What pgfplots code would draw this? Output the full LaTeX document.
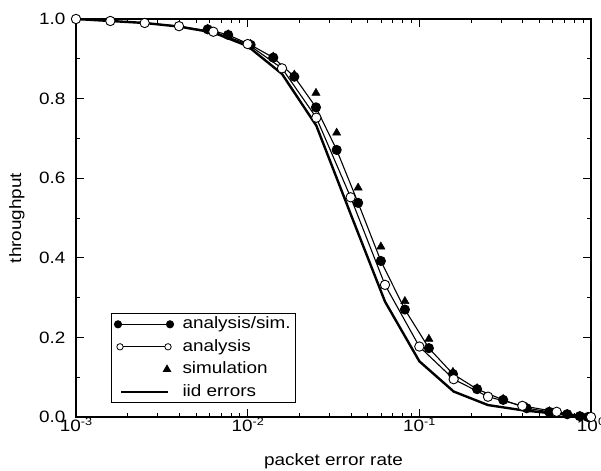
\documentclass[border=0pt]{standalone}
\usepackage{fontspec}
\setmainfont{Liberation Sans}[FakeStretch=1.15]
\usepackage{pgfplots}
\pgfplotsset{compat=1.18}

\newcommand{\dec}[1]{10\raisebox{5.8bp}{\fontsize{11}{11}\selectfont #1}}

\pgfplotsset{
  twoends/.style={legend image code/.code={
    \draw[mark repeat=2, mark phase=1] plot coordinates {(#1,0bp) (26bp,0bp) (52bp-#1,0bp)};}},
  onlyend/.style={legend image code/.code={
    \draw[only marks] plot coordinates {(49bp,0bp)};}},
  plainline/.style={legend image code/.code={
    \draw plot coordinates {(3bp,0bp) (50bp,0bp)};}},
}

% iid errors
\pgfplotstableread{
x y
0.001 1.0
0.001585 0.995
0.002512 0.99
0.003981 0.981
0.00631 0.966
0.01 0.932
0.01585 0.862
0.02512 0.732
0.03981 0.51
0.0631 0.29
0.1 0.14
0.1585 0.064
0.2512 0.03
0.3981 0.017
0.631 0.008
1.0 0.0
}\iiddata

% analysis (open circles)
\pgfplotstableread{
x y
0.001 1.0
0.001585 0.995
0.002512 0.99
0.003981 0.982
0.00631 0.968
0.01 0.937
0.01585 0.876
0.02512 0.752
0.03981 0.552
0.0631 0.332
0.1 0.177
0.1585 0.095
0.2512 0.051
0.3981 0.028
0.631 0.013
1.0 0.0
}\anadata

% analysis/sim. (filled circles)
\pgfplotstableread{
x y
0.00585 0.974
0.0077 0.960
0.0104 0.935
0.0141 0.903
0.0187 0.855
0.0250 0.778
0.0330 0.671
0.0440 0.538
0.0597 0.392
0.0824 0.270
0.1137 0.173
0.157 0.108
0.217 0.070
0.308 0.043
0.422 0.022
0.571 0.013
0.727 0.007
0.861 0.002
0.96 0.0
}\anasimdata

% simulation (triangles)
\pgfplotstableread{
x y
0.00585 0.975
0.0077 0.961
0.0104 0.937
0.0141 0.905
0.0187 0.860
0.0250 0.814
0.0330 0.714
0.0440 0.576
0.0597 0.428
0.0824 0.291
0.1137 0.196
0.157 0.113
0.217 0.072
0.308 0.045
0.422 0.024
0.571 0.014
0.727 0.007
0.861 0.002
0.96 0.0
}\simdata

\begin{document}
\begin{tikzpicture}
\useasboundingbox (0,0) rectangle (601bp,471bp);
\begin{axis}[
  at={(76bp,54bp)}, anchor=south west,
  scale only axis, width=515bp, height=398bp,
  xmode=log, xmin=1e-3, xmax=1, ymin=0, ymax=1,
  xtick={0.001,0.01,0.1,1},
  xticklabels={\dec{-3},\dec{-2},\dec{-1},\dec{0}},
  ytick={0,0.2,0.4,0.6,0.8,1}, minor ytick={0.1,0.3,0.5,0.7,0.9},
  yticklabel style={/pgf/number format/fixed, /pgf/number format/fixed zerofill,
    /pgf/number format/precision=1, /pgf/number format/assume math mode=true,
    xshift=-7bp},
  xticklabel style={inner ysep=1bp},
  tick align=inside, major tick length=8bp, minor tick length=4bp,
  axis line style={line width=1.1bp},
  every tick/.style={black, line width=0.9bp},
  ticklabel style={font=\fontsize{16.5}{18}\selectfont},
  label style={font=\fontsize{16.5}{18}\selectfont},
  xlabel={packet error rate}, ylabel={throughput},
  xlabel style={at={(axis description cs:0.5,-0.1106)}, anchor=center},
  ylabel style={at={(axis description cs:-0.1146,0.5)}, anchor=center},
  legend style={at={(axis description cs:0.068,0.035)}, anchor=south west,
    draw=black, line width=1bp, font=\fontsize{16.5}{18}\selectfont,
    inner xsep=3bp, inner ysep=1bp, row sep=3bp, column sep=7bp,
    nodes={inner sep=2bp, text height=12bp, text depth=3.5bp}},
  legend cell align=left,
]
\addplot[black, line width=2.4bp, forget plot] table {\iiddata};
\addplot[black, only marks, mark=triangle*, mark size=4.8bp, forget plot] table {\simdata};
\addplot[black, line width=1.1bp, mark=*, mark size=4.5bp, forget plot] table {\anasimdata};
\addplot[black, line width=1.1bp, mark=*, mark size=4.7bp,
  mark options={fill=white, line width=0.9bp}, forget plot] table {\anadata};

\addlegendimage{black, line width=1.1bp, mark=*, mark size=3.5bp, twoends=0bp}
\addlegendentry{analysis/sim.}
\addlegendimage{black, line width=1.1bp, mark=*, mark size=3.2bp,
  mark options={fill=white, line width=0.8bp}, twoends=2bp}
\addlegendentry{analysis}
\addlegendimage{black, mark=triangle*, mark size=4bp, onlyend}
\addlegendentry{simulation}
\addlegendimage{black, line width=2.4bp, plainline}
\addlegendentry{iid errors}
\end{axis}
\end{tikzpicture}
\end{document}
